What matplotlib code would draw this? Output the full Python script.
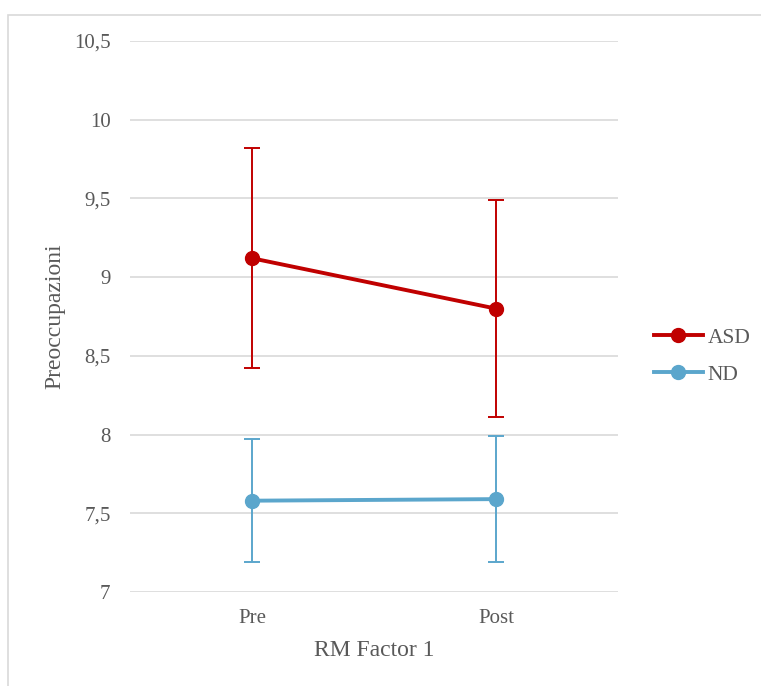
import matplotlib
matplotlib.use("Agg")
import matplotlib.pyplot as plt
from matplotlib.patches import Rectangle
from matplotlib.lines import Line2D
from matplotlib.ticker import FuncFormatter

# data
conditions = ["Pre", "Post"]
asd_mean = [9.12, 8.80]
asd_err_lo = [0.70, 0.69]
asd_err_hi = [0.70, 0.69]
nd_mean = [7.58, 7.59]
nd_err_lo = [0.39, 0.40]
nd_err_hi = [0.39, 0.40]
y_ticks = [7, 7.5, 8, 8.5, 9, 9.5, 10, 10.5]

plt.rcParams['font.family'] = ['Liberation Serif', 'DejaVu Serif']
txt = "#595959"
asd_col = "#C00000"
nd_col = "#5BA6CC"

W, H = 761, 686
fig = plt.figure(figsize=(W / 100, H / 100), dpi=100)
ax = fig.add_axes([130 / W, 1 - 592 / H, (618 - 130) / W, (592 - 41) / H])

# outer chart border (cropped at right/bottom like the source)
fig.patches.append(Rectangle((8 / W, -0.05), 1.1, 1 - 15 / H + 0.05,
                             transform=fig.transFigure, fill=False,
                             edgecolor="#D9D9D9", linewidth=1.2))

x = list(range(len(conditions)))
ax.errorbar(x, asd_mean, yerr=[asd_err_lo, asd_err_hi], color=asd_col,
            lw=2.8, marker="o", ms=10, elinewidth=1.4, capsize=6, capthick=1.4,
            zorder=4)
ax.errorbar(x, nd_mean, yerr=[nd_err_lo, nd_err_hi], color=nd_col,
            lw=2.8, marker="o", ms=10, elinewidth=1.4, capsize=6, capthick=1.4,
            zorder=3)

ax.set_xlim(-0.5, 1.5)
ax.set_ylim(7, 10.5)
ax.set_yticks(y_ticks)
ax.yaxis.set_major_formatter(FuncFormatter(lambda v, p: ("%g" % v).replace(".", ",")))
ax.set_xticks(x)
ax.set_xticklabels(conditions)
ax.grid(axis="y", color="#D9D9D9", lw=1.2)
ax.set_axisbelow(True)
for s in ax.spines.values():
    s.set_visible(False)
ax.tick_params(length=0, labelsize=15, colors=txt, pad=12)
ax.tick_params(axis="y", pad=14)

ax.set_ylabel("Preoccupazioni", fontsize=17, color=txt, labelpad=6)
ax.set_xlabel("RM Factor 1", fontsize=17, color=txt, labelpad=9)

handles = [Line2D([], [], color=asd_col, lw=2.8, marker="o", ms=10),
           Line2D([], [], color=nd_col, lw=2.8, marker="o", ms=10)]
ax.legend(handles, ["ASD", "ND"], loc="center left", bbox_to_anchor=(1.074, 0.428),
          frameon=False, fontsize=15.5, labelcolor=txt, handlelength=2.25,
          handletextpad=0.25, labelspacing=0.78, borderpad=0, borderaxespad=0)

fig.savefig("out.png", dpi=100)
